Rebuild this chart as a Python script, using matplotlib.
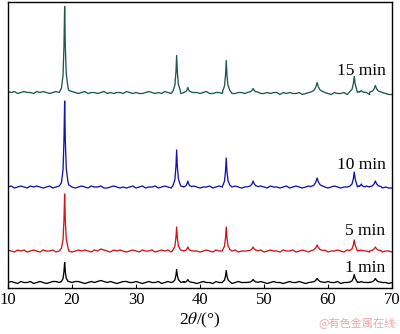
import numpy as np
import matplotlib
matplotlib.use("Agg")
import matplotlib.pyplot as plt

# 2theta grid for the background (deg) and peak positions
theta_start, theta_stop, theta_step = 10, 70, 0.5
peaks_2theta = [18.85, 36.35, 38.1, 44.1, 48.3, 58.3, 64.1, 65.2, 67.4]
# relative width of each peak (broad ones at high angle)
peak_width = [1.0, 1.1, 1.2, 1.1, 1.6, 2.0, 1.4, 1.2, 1.8]

# peak heights above background (a.u.)
h_1min = [20, 13, 3, 12, 3, 4, 8, 1, 4]
h_5min = [57, 24, 4, 24, 4, 6, 11, 1, 4]
h_10min = [86, 37, 6, 29, 6, 9, 15, 3, 6]
h_15min = [86, 37, 5, 32, 4, 10, 16, 2, 7]

# vertical offset of each pattern (a.u.)
offsets = [5.5, 37, 101, 195.5]
labels = ["1 min", "5 min", "10 min", "15 min"]
colors = ["#000000", "#d0161b", "#1414b4", "#1d5a4e"]

# background wiggle, one value per grid step
bg_1min = [0, 1, 0, -1, 1, 0, 0, 1, -1, 0, 1, 0, -1, 0, 1, 1, 0, -1, 0, 1,
           0, 1, 1, 0, -1, 0, 1, 0, 1, 2, 1, 0, 1, 0, -1, 0, 1, 1, 0, 0,
           1, 0, -1, 0, 1, 0, 0, 1, -1, 0, 1, 0, 0, -1, 0, 1, 0, 1, 0, -1,
           0, 1, 0, 0, -1, 1, 0, 0, 1, 0, -1, 0, 1, 0, 0, 1, -1, 0, 0, 1,
           0, -1, 0, 1, 0, 0, -1, 0, 1, 0, 0, 1, 0, -1, 0, 1, 0, 0, -1, 0,
           1, 0, 0, 1, -1, 0, 0, 1, 0, -1, 0, 1, 0, 0, -1, 0, 1, 0, 0, -1, 0]
bg_5min = [1, 0, -1, 1, 0, 1, -1, 0, 1, 0, -1, 1, 0, 0, 1, -1, 0, 1, 1, 0,
           -1, 0, 1, 0, 1, 0, -1, 1, 0, 2, 1, 0, -1, 1, 0, 1, 0, -1, 0, 1,
           0, -1, 1, 0, 0, 1, -1, 0, 1, 0, 1, -1, 0, 0, 1, 0, -1, 1, 0, 0,
           -1, 0, 1, 0, -1, 1, 0, 0, -1, 1, 0, 1, -1, 0, 0, 1, 0, -1, 0, 1,
           -1, 0, 1, 0, 0, -1, 1, 0, 0, 1, -1, 0, 1, 0, -1, 0, 1, 0, 0, 1,
           -1, 0, 0, 1, 0, -1, 1, 0, 0, -1, 0, 1, 0, -1, 0, 1, 0, -1, 0, 0, -1]
bg_10min = [0, 1, -1, 0, 1, 0, -1, 1, 0, 1, 0, -1, 0, 1, -1, 0, 1, 0, 1, 2,
            0, -1, 0, 1, 0, -1, 1, 0, 0, 1, -1, -1, 0, 1, 0, -1, 0, -1, 0, 1,
            -1, 0, 1, -1, 0, 0, 1, -1, 0, 1, 0, -1, -1, 0, 1, 0, 0, -1, 1, 0,
            -1, 0, 0, 1, -1, 0, 1, 0, -1, 0, 0, 1, 0, -1, 0, 1, -1, 0, 0, 1,
            0, -1, 1, 0, 0, -1, 0, 1, -1, 0, 1, 0, -1, 0, 1, 0, -1, 0, 1, 0,
            -1, 0, 1, 0, -1, 0, 0, 1, -1, 0, 0, -1, 1, 0, -1, 0, 0, -1, 0, -1, -1]
bg_15min = [1, 0, 1, -1, 0, 1, 0, 0, -1, 1, 0, 1, 0, -1, 0, 1, 0, 1, 0, 2,
            1, 0, -1, 0, 1, -1, 0, 0, -1, 0, 1, -1, 0, -1, 0, 0, -1, 1, 0, -1,
            0, -1, -1, 0, 1, 0, -1, 0, -1, 1, 0, -1, 0, 0, -1, 0, 1, -1, 0, 0,
            -1, 0, 1, -1, -1, 0, 0, -1, 1, 0, -1, -1, 0, 0, -1, 0, -1, 0, 1, -1,
            -1, 0, -1, 0, 0, -2, 0, -1, 0, -1, -1, 0, -2, -1, 0, -1, 0, -1, -2, 0,
            -1, -2, 0, -1, -1, 0, -2, -1, 0, -1, -2, -1, 0, -2, -1, -1, -2, 0, -1, -2, -2]

# peak profile template: offset from centre (deg) and fraction of height
shape_dx = [-0.5, -0.25, -0.1, 0, 0.1, 0.25, 0.5]
shape_frac = [0.05, 0.2, 0.55, 1.0, 0.55, 0.22, 0.07]


def build_pattern(bg, heights, offset):
    grid = np.arange(theta_start, theta_stop + 1e-9, theta_step)
    xs, ys = [], []
    for x, b in zip(grid, bg):
        if any(abs(x - p) < 0.5 * w for p, w in zip(peaks_2theta, peak_width)):
            continue
        xs.append(x)
        ys.append(offset + b)
    for p, w, h in zip(peaks_2theta, peak_width, heights):
        for dx, f in zip(shape_dx, shape_frac):
            xs.append(p + dx * w)
            ys.append(offset + f * h)
    order = np.argsort(xs)
    return np.array(xs)[order], np.array(ys)[order]


plt.rcParams['font.family'] = ['Liberation Serif', 'DejaVu Serif']
plt.rcParams['mathtext.fontset'] = 'stix'

fig = plt.figure(figsize=(4.0, 3.34), dpi=100)
ax = fig.add_axes([0.02, 0.1377, 0.96, 0.8563])

all_bg = [bg_1min, bg_5min, bg_10min, bg_15min]
all_h = [h_1min, h_5min, h_10min, h_15min]
label_y = [20, 57, 123, 217]
for bg, h, off, lab, c, ly in zip(all_bg, all_h, offsets, labels, colors, label_y):
    x, y = build_pattern(bg, h, off)
    ax.plot(x, y, color=c, lw=0.95)
    ax.text(69.0, ly, lab, ha='right', va='center', fontsize=12.5)

ax.set_xlim(10, 70)
ax.set_ylim(0, 286)
ax.set_xticks([10, 20, 30, 40, 50, 60, 70])
ax.set_yticks([])
ax.tick_params(axis='x', direction='in', length=3, labelsize=12, pad=3)
for s in ax.spines.values():
    s.set_linewidth(1.0)
ax.set_xlabel(r'2$\mathit{\theta}$/(°)', fontsize=12.5, labelpad=2)

fig.text(0.99, 0.015, '@有色金属在线', ha='right', va='bottom', fontsize=8,
         color='#f2a6a6', family=['Noto Sans CJK SC', 'DejaVu Sans'])

fig.savefig('out.png', dpi=100)
